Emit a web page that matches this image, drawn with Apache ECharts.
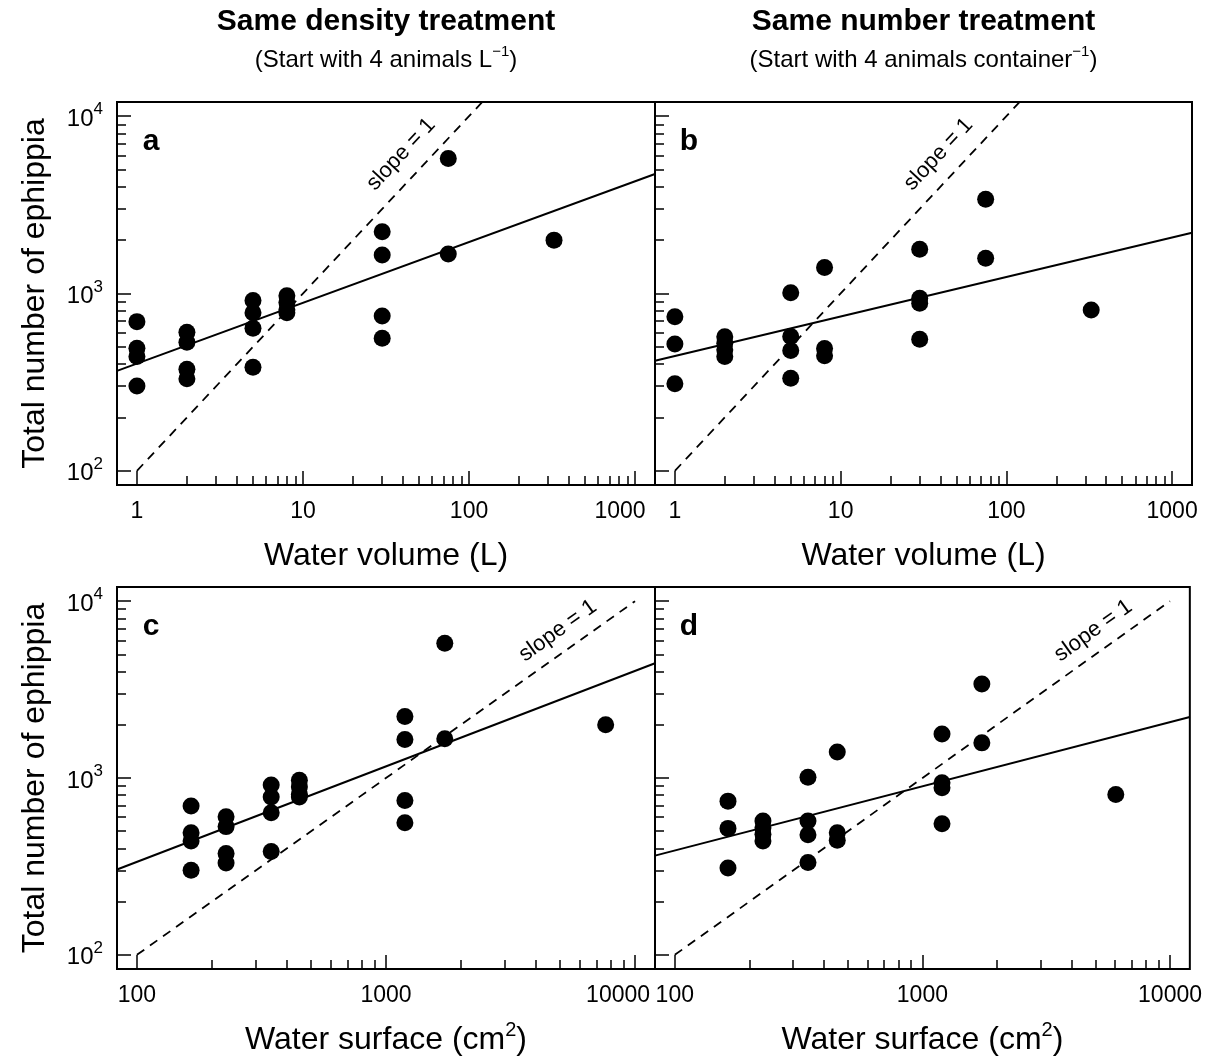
<!DOCTYPE html>
<html><head><meta charset="utf-8">
<script src="https://cdn.jsdelivr.net/npm/echarts@6/dist/echarts.min.js"></script>
<style>html,body{margin:0;padding:0;background:#fff}#c{width:1205px;height:1061px}</style>
</head><body><div id="c"></div>
<script>
// ---------- data ----------
// Same density treatment (panels a, c)
const volDensity  = [1,1,1,1, 2,2,2,2, 5,5,5,5, 8,8,8,8, 30,30,30,30, 75,75, 325];
const surfDensity = [165,165,165,165, 228,228,228,228, 346,346,346,346, 449,449,449,449, 1191,1191,1191,1191, 1722,1722, 7620];
const ephDensity  = [694,491,441,301, 604,531,374,331, 912,780,637,384, 970,890,810,780, 2228,1649,747,559, 5775,1669, 2000];
// Same number treatment (panels b, d)
const volNumber  = [1,1,1, 2,2,2,2, 5,5,5,5, 8,8,8, 30,30,30,30, 75,75, 325];
const surfNumber = [164,164,164, 227,227,227,227, 345,345,345,345, 453,453,453, 1200,1200,1200,1200, 1738,1738, 6040];
const ephNumber  = [740,519,310, 571,524,481,441, 1011,572,477,333, 1402,490,445, 1774,939,881,552, 3400,1580, 807];
// fitted regression lines (end points read at the panel edges)
const fitA = [[0.7586, 366], [1318, 4720]];
const fitB = [[0.7586, 418], [1318, 2200]];
const fitC = [[83.18, 304], [12023, 4455]];
const fitD = [[83.18, 364], [12023, 2214]];
// slope = 1 reference lines
const slopeVol  = [[1, 100], [120, 12000]];
const slopeSurf = [[100, 100], [10000, 10000]];
const slopeLabelVol  = [[39, 6100]];
const slopeLabelSurf = [[4900, 6800]];
// axis ranges and ticks
const volRange  = [0.7586, 1318.3];
const surfRange = [83.18, 12023];
const ephRange  = [83.18, 12023];
const majorVol  = [1, 10, 100, 1000];
const minorVol  = [2,3,4,5,6,7,8,9, 20,30,40,50,60,70,80,90, 200,300,400,500,600,700,800,900];
const majorSurf = [100, 1000, 10000];
const minorSurf = [200,300,400,500,600,700,800,900, 2000,3000,4000,5000,6000,7000,8000,9000];
const majorEph  = [100, 1000, 10000];
const minorEph  = [200,300,400,500,600,700,800,900, 2000,3000,4000,5000,6000,7000,8000,9000];
const panelLetters = ['a','b','c','d'];

// ---------- layout ----------
const FF = "'Liberation Sans', Arial, Helvetica, sans-serif";
const grids = [
  {left:117, top:102, width:538, height:383},
  {left:655, top:102, width:537, height:383},
  {left:117, top:587, width:538, height:385},
  {left:655, top:587, width:537, height:385}
];
const tickLine = {color:'#000', width:1.5};

function xAxes(gi, range, major, minor, name, shiftPad) {
  const last = major[major.length - 1];
  return [
    {type:'log', logBase:10, gridIndex:gi, position:'bottom', min:range[0], max:range[1],
     axisLine:{show:false}, splitLine:{show:false},
     axisTick:{show:true, inside:true, length:14, customValues:major, lineStyle:tickLine},
     axisLabel:{show:true, customValues:major, margin:15, fontSize:23, color:'#000', fontFamily:FF,
                formatter: v => { const s = String(Math.round(v)); return Math.round(v) === last ? '{r|' + s + '}' : s; },
                rich:{r:{fontSize:23, color:'#000', fontFamily:FF, padding:[0, shiftPad, 0, 0]}}},
     name:name, nameLocation:'middle', nameGap:51,
     nameTextStyle:{fontSize:32, color:'#000', fontFamily:FF, lineHeight:40,
        rich:{sup:{fontSize:20, color:'#000', fontFamily:FF, verticalAlign:'top', lineHeight:16}}}},
    {type:'log', logBase:10, gridIndex:gi, position:'bottom', min:range[0], max:range[1],
     axisLine:{show:false}, splitLine:{show:false}, axisLabel:{show:false},
     axisTick:{show:true, inside:true, length:9, customValues:minor, lineStyle:tickLine}}
  ];
}
function yAxes(gi, range, major, minor, showLabels) {
  return [
    {type:'log', logBase:10, gridIndex:gi, position:'left', min:range[0], max:range[1],
     axisLine:{show:false}, splitLine:{show:false},
     axisTick:{show:true, inside:true, length:14, customValues:major, lineStyle:tickLine},
     axisLabel:{show:showLabels, customValues:major, margin:14, color:'#000', fontFamily:FF,
       formatter: v => '{b|10}{s|' + Math.round(Math.log10(v)) + '}',
       rich:{b:{fontSize:24, fontFamily:FF, color:'#000', lineHeight:30, verticalAlign:'bottom'},
             s:{fontSize:17, fontFamily:FF, color:'#000', lineHeight:16, verticalAlign:'top'}}},
     name: showLabels ? 'Total number of ephippia' : '', nameLocation:'middle', nameGap:66,
     nameTextStyle:{fontSize:32, color:'#000', fontFamily:FF}},
    {type:'log', logBase:10, gridIndex:gi, position:'left', min:range[0], max:range[1],
     axisLine:{show:false}, splitLine:{show:false}, axisLabel:{show:false},
     axisTick:{show:true, inside:true, length:9, customValues:minor, lineStyle:tickLine}}
  ];
}

const xAxis = [].concat(
  xAxes(0, volRange, majorVol, minorVol, 'Water volume (L)', 30),
  xAxes(1, volRange, majorVol, minorVol, 'Water volume (L)', 0),
  xAxes(2, surfRange, majorSurf, minorSurf, 'Water surface (cm{sup|2})', 34),
  xAxes(3, surfRange, majorSurf, minorSurf, 'Water surface (cm{sup|2})', 0)
);
const yAxis = [].concat(
  yAxes(0, ephRange, majorEph, minorEph, true),
  yAxes(1, ephRange, majorEph, minorEph, false),
  yAxes(2, ephRange, majorEph, minorEph, true),
  yAxes(3, ephRange, majorEph, minorEph, false)
);

function pairs(xs, ys) { return xs.map((x, i) => [x, ys[i]]); }
const panels = [
  {pts: pairs(volDensity, ephDensity),  fit: fitA, slope: slopeVol,  lab: slopeLabelVol,  rot: 47},
  {pts: pairs(volNumber, ephNumber),    fit: fitB, slope: slopeVol,  lab: slopeLabelVol,  rot: 47},
  {pts: pairs(surfDensity, ephDensity), fit: fitC, slope: slopeSurf, lab: slopeLabelSurf, rot: 35.7},
  {pts: pairs(surfNumber, ephNumber),   fit: fitD, slope: slopeSurf, lab: slopeLabelSurf, rot: 35.7}
];
const series = [];
panels.forEach((p, i) => {
  const ax = {xAxisIndex: 2*i, yAxisIndex: 2*i};
  series.push(Object.assign({type:'line', data:p.slope, symbol:'none', silent:true,
    lineStyle:{color:'#000', width:1.8, type:[9,7], opacity:1}}, ax));
  series.push(Object.assign({type:'line', data:p.fit, symbol:'none', silent:true,
    lineStyle:{color:'#000', width:2, opacity:1}}, ax));
  series.push(Object.assign({type:'scatter', data:p.pts, symbol:'circle', symbolSize:17,
    itemStyle:{color:'#000', opacity:1}}, ax));
  series.push(Object.assign({type:'scatter', data:p.lab, symbolSize:0, silent:true,
    itemStyle:{opacity:1},
    label:{show:true, position:'inside', formatter:'slope = 1', rotate:p.rot, fontSize:22,
           color:'#000', opacity:1, fontFamily:FF}}, ax));
});

const graphic = [];
panelLetters.forEach((t, i) => {
  graphic.push({type:'text', x: grids[i].left + 34, y: grids[i].top + 40,
    style:{text:t, fontSize:30, fontWeight:'bold', fontFamily:FF, fill:'#000',
           align:'center', verticalAlign:'middle'}});
});
const titles = [
  {t:'Same density treatment', s:'(Start with 4 animals L{sup|−1})', g:0},
  {t:'Same number treatment',  s:'(Start with 4 animals container{sup|−1})', g:1}
];
titles.forEach(o => {
  const cx = grids[o.g].left + grids[o.g].width / 2;
  graphic.push({type:'text', x: cx, y: 22, style:{text:o.t, fontSize:30, fontWeight:'bold',
    fontFamily:FF, fill:'#000', align:'center', verticalAlign:'middle'}});
  graphic.push({type:'text', x: cx, y: 60, style:{text:o.s, fontSize:24, fontFamily:FF, fill:'#000',
    align:'center', verticalAlign:'middle', lineHeight:32,
    rich:{sup:{fontSize:15, fontFamily:FF, fill:'#000', verticalAlign:'top', lineHeight:14}}}});
});

const chart = echarts.init(document.getElementById('c'), null, {renderer:'canvas'});
chart.setOption({
  animation:false,
  backgroundColor:'#fff',
  textStyle:{fontFamily:FF},
  grid: grids.map(g => Object.assign({show:true, borderColor:'#000', borderWidth:2,
    backgroundColor:'transparent', containLabel:false}, g)),
  xAxis, yAxis, series, graphic
});
</script></body></html>
